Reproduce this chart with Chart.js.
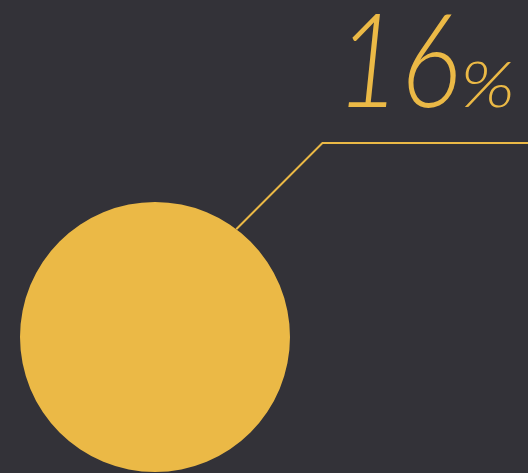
<!DOCTYPE html>
<html>
<head>
<meta charset="utf-8">
<script src="https://cdn.jsdelivr.net/npm/chart.js@4"></script>
<style>
  html, body { margin: 0; padding: 0; background: #333238; }
  canvas { display: block; }
</style>
</head>
<body>
<canvas id="bubbleChart" width="528" height="473"></canvas>
<script>
const labels = ["Share"];
const values = [16];
const colors = ["#EBB946"];

// leader line + big percentage label
const calloutPlugin = {
    id: "callout",
    afterDatasetsDraw(chart) {
        const ctx = chart.ctx;
        const arc = chart.getDatasetMeta(0).data[0];
        const {x, y, outerRadius} = arc.getProps(["x", "y", "outerRadius"], true);
        const ang = 53 * Math.PI / 180;
        const sx = x + Math.cos(ang) * outerRadius;
        const sy = y - Math.sin(ang) * outerRadius;
        const lineY = 143;
        const ex = sx + (sy - lineY);

        ctx.save();
        ctx.strokeStyle = colors[0];
        ctx.lineWidth = 2;
        ctx.beginPath();
        ctx.moveTo(sx, sy);
        ctx.lineTo(ex, lineY);
        ctx.lineTo(chart.width, lineY);
        ctx.stroke();

        ctx.fillStyle = colors[0];
        ctx.textAlign = "left";
        ctx.textBaseline = "alphabetic";
        // percent sign, stretched a little to look like the original face
        ctx.font = "italic 300 64px Lato";
        const pw = ctx.measureText("%").width;
        ctx.save();
        ctx.translate(460, 107);
        ctx.scale(55 / pw, 1);
        ctx.fillText("%", 0, 0);
        ctx.restore();

        ctx.font = "italic 300 130px Lato";
        const nw = ctx.measureText(String(values[0])).width;
        ctx.save();
        ctx.translate(336, 107);
        ctx.scale(124 / nw, 1);
        ctx.fillText(String(values[0]), 0, 0);
        ctx.restore();
        ctx.restore();
    }
};

const bubbleChart = new Chart(document.getElementById("bubbleChart"), {
    type: "pie",
    data: {
        labels: labels,
        datasets: [{
            data: values,
            backgroundColor: colors,
            borderWidth: 0
        }]
    },
    options: {
        responsive: false,
        animation: false,
        layout: {
            padding: {left: 20, right: 238, top: 202, bottom: 1}
        },
        plugins: {
            legend: {display: false},
            tooltip: {enabled: false}
        }
    },
    plugins: [calloutPlugin]
});
</script>
</body>
</html>
